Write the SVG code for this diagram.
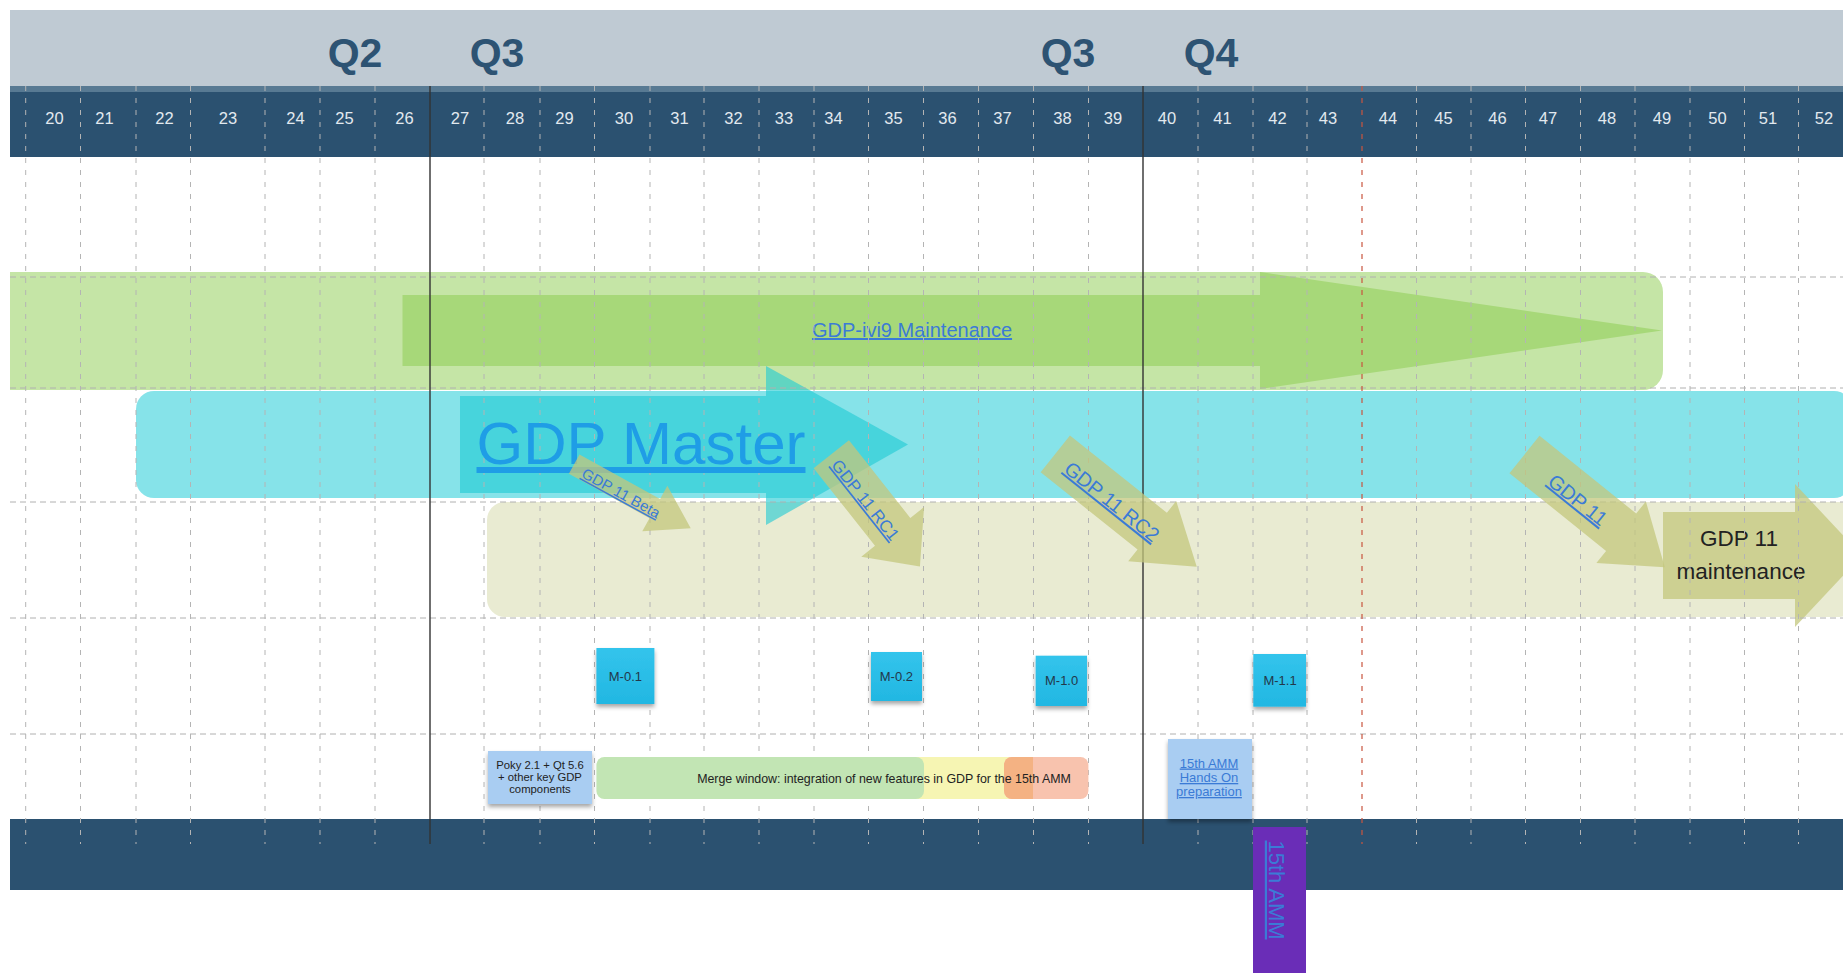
<svg xmlns="http://www.w3.org/2000/svg" width="1843" height="973" viewBox="0 0 1843 973">
<style>
.q{font-family:"Liberation Sans",Arial,sans-serif;font-weight:bold;font-size:41px;fill:#2d5373;text-anchor:middle}
.wk{font-family:"Liberation Sans",Arial,sans-serif;font-size:16.5px;fill:#e2e9ef;text-anchor:middle}
.vg{stroke:#b4b4b4;stroke-width:1;stroke-dasharray:5 7;fill:none}
.hg{stroke:#b0b0b0;stroke-width:1;stroke-dasharray:6 4;fill:none}
.link{font-family:"Liberation Sans",Arial,sans-serif;fill:#3b7bd6;text-decoration:underline;text-anchor:middle}
.olive{fill:#c3c77c;fill-opacity:0.75}
.sticky{fill:url(#mg);filter:url(#sh)}
.mt{font-family:"Liberation Sans",Arial,sans-serif;font-size:13px;fill:#22384a;text-anchor:middle}
.dark{font-family:"Liberation Sans",Arial,sans-serif;fill:#222;text-anchor:middle}
</style>
<defs>
<linearGradient id="mg" x1="0" y1="0" x2="0" y2="1"><stop offset="0" stop-color="#33c4ec"/><stop offset="1" stop-color="#22b7e2"/></linearGradient>
<filter id="sh" x="-20%" y="-20%" width="140%" height="150%"><feDropShadow dx="0" dy="3" stdDeviation="2" flood-color="#000" flood-opacity="0.35"/></filter>
</defs>
<rect width="1843" height="973" fill="#fff"/>
<g id="header">
<rect x="10" y="10" width="1833" height="76" fill="#bfcad3"/>
<rect x="10" y="86" width="1833" height="71" fill="#2b5170"/>
<rect x="10" y="86" width="1833" height="6" fill="#587a93"/>
<text class="q" x="355" y="67">Q2</text>
<text class="q" x="497" y="67">Q3</text>
<text class="q" x="1068" y="67">Q3</text>
<text class="q" x="1211" y="67">Q4</text>
<g>
<text class="wk" x="54.5" y="123.5">20</text><text class="wk" x="104.5" y="123.5">21</text><text class="wk" x="164.5" y="123.5">22</text><text class="wk" x="228" y="123.5">23</text><text class="wk" x="295.5" y="123.5">24</text><text class="wk" x="344.5" y="123.5">25</text><text class="wk" x="404.5" y="123.5">26</text><text class="wk" x="460" y="123.5">27</text><text class="wk" x="515" y="123.5">28</text><text class="wk" x="564.5" y="123.5">29</text><text class="wk" x="624" y="123.5">30</text><text class="wk" x="679.5" y="123.5">31</text><text class="wk" x="733.5" y="123.5">32</text><text class="wk" x="784" y="123.5">33</text><text class="wk" x="833.5" y="123.5">34</text><text class="wk" x="893.5" y="123.5">35</text><text class="wk" x="947.5" y="123.5">36</text><text class="wk" x="1002.5" y="123.5">37</text><text class="wk" x="1062.5" y="123.5">38</text><text class="wk" x="1113" y="123.5">39</text><text class="wk" x="1167" y="123.5">40</text><text class="wk" x="1222.5" y="123.5">41</text><text class="wk" x="1277.5" y="123.5">42</text><text class="wk" x="1328" y="123.5">43</text><text class="wk" x="1388" y="123.5">44</text><text class="wk" x="1443.5" y="123.5">45</text><text class="wk" x="1497.5" y="123.5">46</text><text class="wk" x="1548" y="123.5">47</text><text class="wk" x="1607" y="123.5">48</text><text class="wk" x="1662" y="123.5">49</text><text class="wk" x="1717.5" y="123.5">50</text><text class="wk" x="1768" y="123.5">51</text><text class="wk" x="1824" y="123.5">52</text>
</g>
</g>
<rect id="footer" x="10" y="819" width="1833" height="71" fill="#2b5170"/>
<g id="bands">
<path id="ivi9-band" d="M10,272 H1643 A20,20 0 0 1 1663,292 V370 A20,20 0 0 1 1643,390 H10 Z" fill="#c5e5a6"/>
<rect id="master-band" x="136" y="391" width="1716" height="107" rx="18" fill="#86e3e9"/>
<rect id="gdp11-band" x="487" y="502" width="1370" height="115" rx="18" fill="#e9ebd2"/>
</g>
<g id="ivi9-arrow">
<polygon points="402.5,295 1260,295 1260,272 1662,330.5 1260,389 1260,366 402.5,366" fill="#a7d879"/>
<text class="link" x="912" y="337" font-size="20">GDP-ivi9 Maintenance</text>
</g>
<g id="master-arrow">
<polygon points="460,396 766,396 766,366 908,444.5 766,525 766,493 460,493" fill="#1ecad3" fill-opacity="0.6"/>
</g>
<g id="maint-arrow">
<polygon class="olive" points="1663,512 1795,512 1795,484 1862,555.5 1795,627 1795,599 1663,599"/>
<text class="dark" x="1739" y="546" font-size="22.5">GDP 11</text>
<text class="dark" x="1741" y="579" font-size="22.5">maintenance</text>
</g>
<g id="grid">
<g class="hg">
<path d="M10,277 H1843 M10,388 H1843 M10,502 H1843 M10,618 H1843 M10,734 H1843"/>
</g>
<g class="vg">
<path d="M25.7,86 V844 M80.5,86 V844 M136,86 V844 M190.5,86 V844 M265,86 V844 M320,86 V844 M375,86 V844 M484,86 V844 M540,86 V844 M594.5,86 V844 M650,86 V844 M704,86 V844 M759,86 V844 M814,86 V844 M868.5,86 V844 M923.5,86 V844 M978.5,86 V844 M1033.5,86 V844 M1088.5,86 V844 M1198,86 V844 M1253,86 V844 M1307,86 V844 M1416.5,86 V844 M1471,86 V844 M1525.5,86 V844 M1580.5,86 V844 M1635,86 V844 M1690,86 V844 M1744.5,86 V844 M1798.5,86 V844"/>
</g>
<path d="M1362,86 V844" stroke="#c9553f" stroke-width="1.2" stroke-dasharray="5 7" fill="none"/>
<path d="M430,86 V844 M1143,86 V844" stroke="#333" stroke-width="1.4" fill="none"/>
</g>
<text id="master-label" class="link" x="641" y="464" font-size="60" style="fill:#1f9de6">GDP Master</text>
<g id="connectors">
<g id="beta" transform="translate(574.2,464.2) rotate(28.8)">
<path class="olive" d="M0,-11 L92,-11 L92,-26 L133,0 L92,26 L92,11 L0,11 Z"/>
<text class="link" x="55" y="8" font-size="15">GDP 11 Beta</text>
</g>
<g id="rc1" transform="translate(831.3,454.2) rotate(51.7)">
<path class="olive" d="M0,-22.5 L99,-22.5 L99,-40 L143,0 L99,40 L99,22.5 L0,22.5 Z"/>
<text class="link" x="57" y="7.5" font-size="17">GDP 11 RC1</text>
</g>
<g id="rc2" transform="translate(1055.3,453.8) rotate(38.6)">
<path class="olive" d="M0,-23.5 L124,-23.5 L124,-38.5 L181,0 L124,38.5 L124,23.5 L0,23.5 Z"/>
<text class="link" x="74" y="9" font-size="20">GDP 11 RC2</text>
</g>
<g id="gdp11" transform="translate(1524.5,454.5) rotate(38.8)">
<path class="olive" d="M0,-24 L124,-24 L124,-39.5 L180,0 L124,39.5 L124,24 L0,24 Z"/>
<text class="link" x="70" y="9" font-size="20">GDP 11</text>
</g>
</g>
<g id="m01"><rect class="sticky" x="596.4" y="648" width="58" height="56"/><text class="mt" x="625.4" y="680.5">M-0.1</text></g>
<g id="m02"><rect class="sticky" x="871" y="652" width="51" height="49"/><text class="mt" x="896.4" y="681">M-0.2</text></g>
<g id="m10"><rect class="sticky" x="1035.7" y="655.7" width="51.3" height="50.3"/><text class="mt" x="1061.6" y="684.5">M-1.0</text></g>
<g id="m11"><rect class="sticky" x="1253.3" y="654" width="52.7" height="52.7"/><text class="mt" x="1280" y="685">M-1.1</text></g>
<g id="merge-window">
<rect x="910" y="757" width="130" height="42" rx="8" fill="#f6f5b3"/>
<rect x="1004" y="757" width="84.4" height="42" rx="8" fill="#f8c3ae"/>
<path d="M1033,757 H1012 A8,8 0 0 0 1004,765 V791 A8,8 0 0 0 1012,799 H1033 Z" fill="#f4b283"/>
<rect x="596.4" y="757" width="327.6" height="42" rx="8" fill="#c2e5b4"/>
<text class="dark" x="884" y="783" font-size="12.4">Merge window: integration of new features in GDP for the 15th AMM</text>
</g>
<g id="poky">
<rect x="488" y="751" width="104" height="53" fill="#a9cdf2" filter="url(#sh)"/>
<text class="dark" font-size="11.3" fill="#333"><tspan x="540" y="769">Poky 2.1 + Qt 5.6</tspan><tspan x="540" y="781">+ other key GDP</tspan><tspan x="540" y="793">components</tspan></text>
</g>
<g id="handson">
<rect x="1168" y="739" width="84" height="80" fill="#a9cdf2" filter="url(#sh)"/>
<text class="link" font-size="13"><tspan x="1209" y="767.5">15th AMM</tspan><tspan x="1209" y="782">Hands On</tspan><tspan x="1209" y="796">preparation</tspan></text>
</g>
<g id="amm">
<rect x="1253" y="827" width="53" height="146" fill="#6a2db7"/>
<text class="link" font-size="22" transform="translate(1277,890) rotate(90)" x="0" y="8">15th AMM</text>
</g>
</svg>
